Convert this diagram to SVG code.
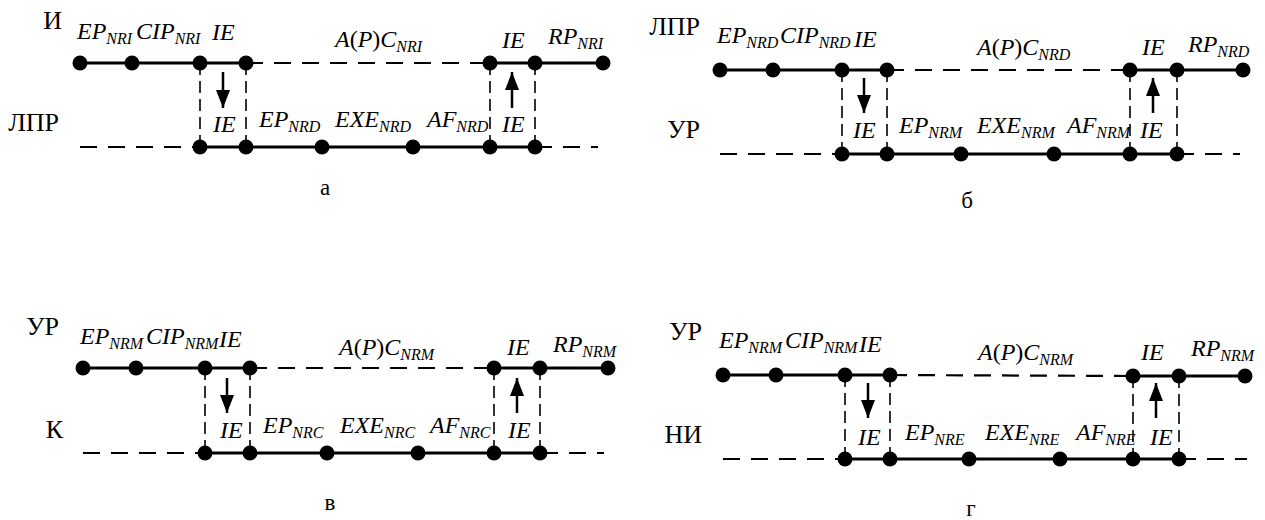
<svg xmlns="http://www.w3.org/2000/svg" width="1265" height="520" viewBox="0 0 1265 520">
  <style>
    .solid { stroke: #000; stroke-width: 3; fill: none; }
    .dash { stroke: #000; stroke-width: 2.2; stroke-dasharray: 17 11; fill: none; }
    .vdash { stroke: #000; stroke-width: 1.6; stroke-dasharray: 12 6; fill: none; }
    .arrow { stroke: #000; stroke-width: 2.5; fill: none; marker-end: url(#ah); }
    .dot { fill: #000; }
    text { font-family: 'Liberation Serif', 'Times New Roman', serif; fill: #000; }
    .lb { font-style: italic; font-size: 24px; }
    .sub { font-size: 16px; }
    .up { font-style: normal; }
    .role { font-size: 26px; text-anchor: end; }
    .cap { font-size: 23px; text-anchor: middle; }
  </style>
  <defs>
    <marker id="ah" markerUnits="userSpaceOnUse" markerWidth="18" markerHeight="14" refX="18" refY="7" orient="auto">
      <path d="M0,0 L18,7 L0,14 Z" fill="#000"/>
    </marker>
  </defs>

  <!-- Panel a: И / ЛПР -->
  <g id="panel-a">
    <g id="panel-a-connectors">
      <line class="solid" x1="80" y1="63" x2="246" y2="63"/>
      <line class="dash" x1="246" y1="63" x2="490" y2="63"/>
      <line class="solid" x1="490" y1="63" x2="603" y2="63"/>
      <line class="dash" x1="80" y1="147" x2="200" y2="147"/>
      <line class="solid" x1="200" y1="147" x2="535" y2="147"/>
      <line class="dash" x1="535" y1="147" x2="598" y2="147"/>
      <line class="vdash" x1="200" y1="63" x2="200" y2="147"/>
      <line class="vdash" x1="246" y1="63" x2="246" y2="147"/>
      <line class="vdash" x1="490" y1="63" x2="490" y2="147"/>
      <line class="vdash" x1="535" y1="63" x2="535" y2="147"/>
      <line class="arrow" x1="223" y1="72" x2="223" y2="108"/>
      <line class="arrow" x1="512" y1="108" x2="512" y2="72"/>
    </g>
    <g id="panel-a-nodes">
      <circle class="dot" cx="80" cy="63" r="7.5"/>
      <circle class="dot" cx="132" cy="63" r="7.5"/>
      <circle class="dot" cx="200" cy="63" r="7.5"/>
      <circle class="dot" cx="246" cy="63" r="7.5"/>
      <circle class="dot" cx="490" cy="63" r="7.5"/>
      <circle class="dot" cx="535" cy="63" r="7.5"/>
      <circle class="dot" cx="603" cy="63" r="7.5"/>
      <circle class="dot" cx="200" cy="147" r="7.5"/>
      <circle class="dot" cx="246" cy="147" r="7.5"/>
      <circle class="dot" cx="322" cy="147" r="7.5"/>
      <circle class="dot" cx="413" cy="147" r="7.5"/>
      <circle class="dot" cx="490" cy="147" r="7.5"/>
      <circle class="dot" cx="535" cy="147" r="7.5"/>
    </g>
    <g id="panel-a-labels">
      <text class="role" x="62" y="29">И</text>
      <text class="role" x="59" y="131">ЛПР</text>
      <text class="lb" x="77" y="39">EP<tspan class="sub" dy="5">NRI</tspan></text>
      <text class="lb" x="136" y="39">CIP<tspan class="sub" dy="5">NRI</tspan></text>
      <text class="lb" x="212" y="40">IE</text>
      <text class="lb" x="335" y="47">A<tspan class="up">(</tspan>P<tspan class="up">)</tspan>C<tspan class="sub" dy="5">NRI</tspan></text>
      <text class="lb" x="502" y="48">IE</text>
      <text class="lb" x="548" y="44">RP<tspan class="sub" dy="5">NRI</tspan></text>
      <text class="lb" x="213" y="132">IE</text>
      <text class="lb" x="259" y="127">EP<tspan class="sub" dy="5">NRD</tspan></text>
      <text class="lb" x="335" y="127">EXE<tspan class="sub" dy="5">NRD</tspan></text>
      <text class="lb" x="427" y="127">AF<tspan class="sub" dy="5">NRD</tspan></text>
      <text class="lb" x="502" y="132">IE</text>
      <text class="cap" x="325" y="195">а</text>
    </g>
  </g>

  <!-- Panel b: ЛПР / УР -->
  <g id="panel-b">
    <g id="panel-b-connectors">
      <line class="solid" x1="720" y1="70" x2="887" y2="70"/>
      <line class="dash" x1="887" y1="70" x2="1130" y2="70"/>
      <line class="solid" x1="1130" y1="70" x2="1243" y2="70"/>
      <line class="dash" x1="720" y1="154" x2="842" y2="154"/>
      <line class="solid" x1="842" y1="154" x2="1177" y2="154"/>
      <line class="dash" x1="1177" y1="154" x2="1240" y2="154"/>
      <line class="vdash" x1="842" y1="70" x2="842" y2="154"/>
      <line class="vdash" x1="887" y1="70" x2="887" y2="154"/>
      <line class="vdash" x1="1130" y1="70" x2="1130" y2="154"/>
      <line class="vdash" x1="1177" y1="70" x2="1177" y2="154"/>
      <line class="arrow" x1="864" y1="78" x2="864" y2="113"/>
      <line class="arrow" x1="1153" y1="113" x2="1153" y2="78"/>
    </g>
    <g id="panel-b-nodes">
      <circle class="dot" cx="720" cy="70" r="7.5"/>
      <circle class="dot" cx="773" cy="70" r="7.5"/>
      <circle class="dot" cx="842" cy="70" r="7.5"/>
      <circle class="dot" cx="887" cy="70" r="7.5"/>
      <circle class="dot" cx="1130" cy="70" r="7.5"/>
      <circle class="dot" cx="1177" cy="70" r="7.5"/>
      <circle class="dot" cx="1243" cy="70" r="7.5"/>
      <circle class="dot" cx="842" cy="154" r="7.5"/>
      <circle class="dot" cx="887" cy="154" r="7.5"/>
      <circle class="dot" cx="961" cy="154" r="7.5"/>
      <circle class="dot" cx="1054" cy="154" r="7.5"/>
      <circle class="dot" cx="1130" cy="154" r="7.5"/>
      <circle class="dot" cx="1177" cy="154" r="7.5"/>
    </g>
    <g id="panel-b-labels">
      <text class="role" x="700" y="35">ЛПР</text>
      <text class="role" x="700" y="138">УР</text>
      <text class="lb" x="717" y="43">EP<tspan class="sub" dy="5">NRD</tspan></text>
      <text class="lb" x="780" y="43">CIP<tspan class="sub" dy="5">NRD</tspan></text>
      <text class="lb" x="854" y="47">IE</text>
      <text class="lb" x="977" y="55">A<tspan class="up">(</tspan>P<tspan class="up">)</tspan>C<tspan class="sub" dy="5">NRD</tspan></text>
      <text class="lb" x="1142" y="55">IE</text>
      <text class="lb" x="1188" y="52">RP<tspan class="sub" dy="5">NRD</tspan></text>
      <text class="lb" x="853" y="138">IE</text>
      <text class="lb" x="899" y="133">EP<tspan class="sub" dy="5">NRM</tspan></text>
      <text class="lb" x="977" y="133">EXE<tspan class="sub" dy="5">NRM</tspan></text>
      <text class="lb" x="1067" y="133">AF<tspan class="sub" dy="5">NRM</tspan></text>
      <text class="lb" x="1140" y="138">IE</text>
      <text class="cap" x="967" y="208">б</text>
    </g>
  </g>

  <!-- Panel c: УР / К -->
  <g id="panel-c">
    <g id="panel-c-connectors">
      <line class="solid" x1="83" y1="368" x2="250" y2="368"/>
      <line class="dash" x1="250" y1="368" x2="494" y2="368"/>
      <line class="solid" x1="494" y1="368" x2="608" y2="368"/>
      <line class="dash" x1="83" y1="453" x2="205" y2="453"/>
      <line class="solid" x1="205" y1="453" x2="541" y2="453"/>
      <line class="dash" x1="541" y1="453" x2="604" y2="453"/>
      <line class="vdash" x1="205" y1="368" x2="205" y2="453"/>
      <line class="vdash" x1="250" y1="368" x2="250" y2="453"/>
      <line class="vdash" x1="494" y1="368" x2="494" y2="453"/>
      <line class="vdash" x1="540" y1="368" x2="540" y2="453"/>
      <line class="arrow" x1="227" y1="378" x2="227" y2="413"/>
      <line class="arrow" x1="517" y1="413" x2="517" y2="378"/>
    </g>
    <g id="panel-c-nodes">
      <circle class="dot" cx="83" cy="368" r="7.5"/>
      <circle class="dot" cx="136" cy="368" r="7.5"/>
      <circle class="dot" cx="205" cy="368" r="7.5"/>
      <circle class="dot" cx="250" cy="368" r="7.5"/>
      <circle class="dot" cx="494" cy="368" r="7.5"/>
      <circle class="dot" cx="540" cy="368" r="7.5"/>
      <circle class="dot" cx="608" cy="368" r="7.5"/>
      <circle class="dot" cx="205" cy="453" r="7.5"/>
      <circle class="dot" cx="250" cy="453" r="7.5"/>
      <circle class="dot" cx="327" cy="453" r="7.5"/>
      <circle class="dot" cx="418" cy="453" r="7.5"/>
      <circle class="dot" cx="494" cy="453" r="7.5"/>
      <circle class="dot" cx="540" cy="453" r="7.5"/>
    </g>
    <g id="panel-c-labels">
      <text class="role" x="59" y="335">УР</text>
      <text class="role" x="63" y="438">К</text>
      <text class="lb" x="80" y="344">EP<tspan class="sub" dy="5">NRM</tspan></text>
      <text class="lb" x="146" y="344">CIP<tspan class="sub" dy="5">NRM</tspan></text>
      <text class="lb" x="219" y="347">IE</text>
      <text class="lb" x="339" y="355">A<tspan class="up">(</tspan>P<tspan class="up">)</tspan>C<tspan class="sub" dy="5">NRM</tspan></text>
      <text class="lb" x="507" y="355">IE</text>
      <text class="lb" x="553" y="352">RP<tspan class="sub" dy="5">NRM</tspan></text>
      <text class="lb" x="220" y="438">IE</text>
      <text class="lb" x="263" y="433">EP<tspan class="sub" dy="5">NRC</tspan></text>
      <text class="lb" x="340" y="433">EXE<tspan class="sub" dy="5">NRC</tspan></text>
      <text class="lb" x="430" y="433">AF<tspan class="sub" dy="5">NRC</tspan></text>
      <text class="lb" x="508" y="438">IE</text>
      <text class="cap" x="330" y="510">в</text>
    </g>
  </g>

  <!-- Panel d: УР / НИ -->
  <g id="panel-d">
    <g id="panel-d-connectors">
      <line class="solid" x1="723" y1="375" x2="890" y2="375"/>
      <line class="dash" x1="890" y1="375" x2="1133" y2="376"/>
      <line class="solid" x1="1133" y1="376" x2="1245" y2="376"/>
      <line class="dash" x1="723" y1="459" x2="845" y2="459"/>
      <line class="solid" x1="845" y1="459" x2="1179" y2="459"/>
      <line class="dash" x1="1179" y1="459" x2="1247" y2="459"/>
      <line class="vdash" x1="845" y1="375" x2="845" y2="459"/>
      <line class="vdash" x1="890" y1="375" x2="890" y2="459"/>
      <line class="vdash" x1="1133" y1="376" x2="1133" y2="459"/>
      <line class="vdash" x1="1179" y1="376" x2="1179" y2="459"/>
      <line class="arrow" x1="868" y1="383" x2="868" y2="418"/>
      <line class="arrow" x1="1156" y1="418" x2="1156" y2="383"/>
    </g>
    <g id="panel-d-nodes">
      <circle class="dot" cx="723" cy="375" r="7.5"/>
      <circle class="dot" cx="776" cy="375" r="7.5"/>
      <circle class="dot" cx="845" cy="375" r="7.5"/>
      <circle class="dot" cx="890" cy="375" r="7.5"/>
      <circle class="dot" cx="1133" cy="376" r="7.5"/>
      <circle class="dot" cx="1179" cy="376" r="7.5"/>
      <circle class="dot" cx="1245" cy="376" r="7.5"/>
      <circle class="dot" cx="845" cy="459" r="7.5"/>
      <circle class="dot" cx="890" cy="459" r="7.5"/>
      <circle class="dot" cx="969" cy="459" r="7.5"/>
      <circle class="dot" cx="1060" cy="459" r="7.5"/>
      <circle class="dot" cx="1133" cy="459" r="7.5"/>
      <circle class="dot" cx="1179" cy="459" r="7.5"/>
    </g>
    <g id="panel-d-labels">
      <text class="role" x="702" y="340">УР</text>
      <text class="role" x="702" y="443">НИ</text>
      <text class="lb" x="719" y="348">EP<tspan class="sub" dy="5">NRM</tspan></text>
      <text class="lb" x="785" y="348">CIP<tspan class="sub" dy="5">NRM</tspan></text>
      <text class="lb" x="859" y="352">IE</text>
      <text class="lb" x="978" y="360">A<tspan class="up">(</tspan>P<tspan class="up">)</tspan>C<tspan class="sub" dy="5">NRM</tspan></text>
      <text class="lb" x="1141" y="360">IE</text>
      <text class="lb" x="1191" y="356">RP<tspan class="sub" dy="5">NRM</tspan></text>
      <text class="lb" x="858" y="445">IE</text>
      <text class="lb" x="905" y="440">EP<tspan class="sub" dy="5">NRE</tspan></text>
      <text class="lb" x="985" y="440">EXE<tspan class="sub" dy="5">NRE</tspan></text>
      <text class="lb" x="1076" y="440">AF<tspan class="sub" dy="5">NRE</tspan></text>
      <text class="lb" x="1150" y="445">IE</text>
      <text class="cap" x="971" y="516">г</text>
    </g>
  </g>
</svg>
